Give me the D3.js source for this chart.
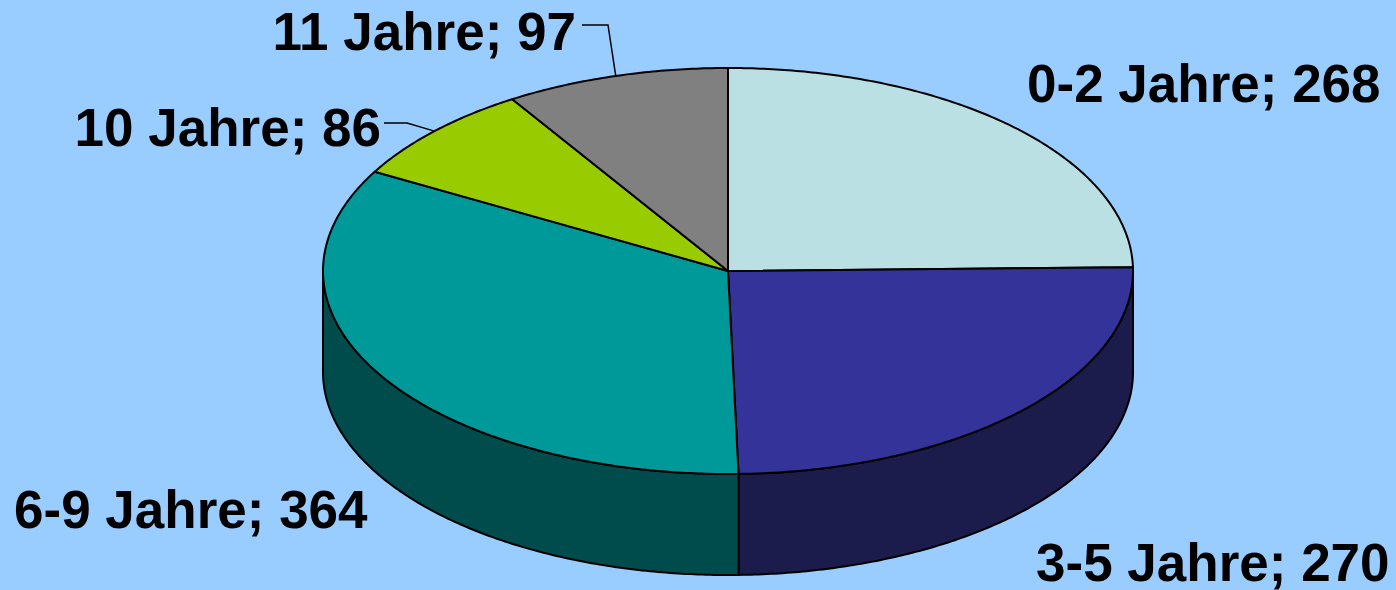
<!DOCTYPE html>
<html>
<head>
<meta charset="utf-8">
<script src="https://cdn.jsdelivr.net/npm/d3@7"></script>
<style>
  html, body { margin: 0; padding: 0; background: #99CCFF; }
  svg { display: block; }
  text { font-family: "Liberation Sans", Arial, sans-serif; font-weight: bold; font-size: 53px; fill: #000; }
</style>
</head>
<body>
<div id="chart"></div>
<script>
// Altersverteilung, 3D-Torte
const categories = ["0-2 Jahre", "3-5 Jahre", "6-9 Jahre", "10 Jahre", "11 Jahre"];
const values = [268, 270, 364, 86, 97];
const topColors = ["#BBE0E3", "#333399", "#009999", "#99CC00", "#808080"];
const sideColors = ["#5E7072", "#1C1C4C", "#004C4C", "#4C6600", "#404040"];

const width = 1396, height = 590;

// ellipse geometry of the pie
const cx = 728, cy = 271, rx = 405, ry = 203, depth = 101;

const svg = d3.select("#chart").append("svg")
    .attr("width", width)
    .attr("height", height);

const data = categories.map((name, i) => ({name, value: values[i], i}));

const pie = d3.pie()
    .sort(null)
    .value(d => d.value);

const arcs = pie(data);

// point on the ellipse, angle 0 = 12 o'clock, clockwise
function pt(a, z) {
    return [cx + rx * Math.sin(a), cy - ry * Math.cos(a) + (z || 0)];
}

function sample(a0, a1, z) {
    let n = Math.max(2, Math.ceil(Math.abs(a1 - a0) / 0.01));
    return d3.range(n + 1).map(k => pt(a0 + (a1 - a0) * k / n, z));
}

const line = d3.line();

// side walls (only the front half is visible)
arcs.forEach(d => {
    let s = Math.max(d.startAngle, Math.PI / 2);
    let e = Math.min(d.endAngle, Math.PI * 1.5);
    if (s >= e) return;
    let pts = sample(s, e, 0).concat(sample(e, s, depth));
    svg.append("path")
        .attr("d", line(pts) + "Z")
        .attr("fill", sideColors[d.data.i])
        .attr("stroke", "#000")
        .attr("stroke-width", 2)
        .attr("stroke-linejoin", "round");
});

// top faces
svg.selectAll("path.top")
    .data(arcs)
    .join("path")
    .attr("class", "top")
    .attr("d", d => line([[cx, cy]].concat(sample(d.startAngle, d.endAngle, 0))) + "Z")
    .attr("fill", d => topColors[d.data.i])
    .attr("stroke", "#000")
    .attr("stroke-width", 2)
    .attr("stroke-linejoin", "round");

// label placement (Excel style, hand placed)
const labelPos = [
    {x: 1027, y: 102, anchor: "start"},
    {x: 1036, y: 581, anchor: "start"},
    {x: 14, y: 528, anchor: "start"},
    {x: 381, y: 146, anchor: "end", leader: [[384, 123], [407, 123]]},
    {x: 576, y: 50, anchor: "end", leader: [[582, 25], [608, 25]]}
];

arcs.forEach(d => {
    let p = labelPos[d.data.i];
    if (p.leader) {
        let mid = (d.startAngle + d.endAngle) / 2;
        svg.append("path")
            .attr("d", line(p.leader.concat([pt(mid, 0)])))
            .attr("fill", "none")
            .attr("stroke", "#000")
            .attr("stroke-width", 1.5);
    }
    svg.append("text")
        .attr("x", p.x)
        .attr("y", p.y)
        .attr("text-anchor", p.anchor)
        .text(`${d.data.name}; ${d.data.value}`);
});
</script>
</body>
</html>
